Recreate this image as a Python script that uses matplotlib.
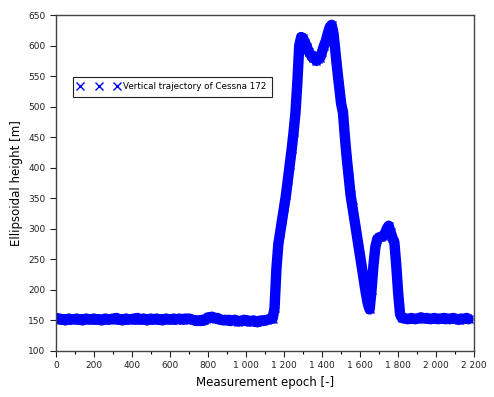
import numpy as np
import matplotlib
matplotlib.use("Agg")
import matplotlib.pyplot as plt
from matplotlib.ticker import MultipleLocator, FuncFormatter

# Ellipsoidal height [m], one reading every 10 epochs
height_ground_start = [
    154, 152, 153, 151, 152, 150, 152, 153, 151, 152,
    152, 153, 151, 152, 150, 152, 153, 152, 151, 152,
    153, 151, 152, 152, 150, 151, 153, 152, 151, 152,
    153, 152, 154, 151, 152, 150, 152, 153, 151, 152,
    152, 153, 151, 154, 152, 151, 153, 152, 150, 152,
    153, 151, 152, 153, 151, 152, 150, 152, 153, 152,
    151, 152, 153, 151, 152, 153, 152, 151, 153, 152,
    153, 152, 151, 150, 149, 150, 149, 151, 150, 152,
    155, 154, 156, 155, 153, 154, 152, 151, 150, 151,
    150, 151, 149, 150, 151, 150, 148, 149, 150, 151,
    149, 150, 148, 149, 150, 148, 147, 149, 150, 149,
    150, 151, 152, 153,
]
height_flight = [
    153, 170, 235, 275, 295, 315, 335, 355, 380, 405,
    430, 458, 490, 540, 600, 614, 612, 605, 598, 590,
    585, 580, 582, 575, 578, 580, 590, 600, 608, 620,
    630, 634, 620, 590, 560, 532, 505, 490, 450, 415,
    385, 355, 335, 315, 295, 275, 255, 235, 215, 195,
    178, 168, 200, 240, 270, 283, 286, 287, 288, 292,
    300, 305, 295, 285, 278, 240, 195, 160,
]
height_ground_end = [
    154, 154, 153, 152, 153, 154, 153, 152, 153, 154,
    155, 154, 153, 154, 153, 152, 153, 154, 153, 152,
    153, 153, 154, 152, 153, 152, 153, 154, 153, 152,
    151, 153, 152, 153, 154, 152,
]
epoch_step = 10
label = "Vertical trajectory of Cessna 172"

height = np.array(height_ground_start + height_flight + height_ground_end)
epoch = np.arange(len(height)) * epoch_step

fig = plt.figure(figsize=(4.94, 3.97), dpi=100)
ax = fig.add_axes([0.113, 0.116, 0.847, 0.846])

# thick band under the markers, the original has a marker at every epoch
ax.plot(epoch, height, color="#0000ff", linewidth=7.5,
        solid_joinstyle="round", solid_capstyle="round")
ax.plot(epoch, height, linestyle="none", marker="x", color="#0000ff",
        markersize=6, markeredgewidth=1.0, label=label)

ax.set_xlim(0, 2200)
ax.set_ylim(100, 650)
ax.xaxis.set_major_locator(MultipleLocator(200))
ax.xaxis.set_minor_locator(MultipleLocator(100))
ax.yaxis.set_major_locator(MultipleLocator(50))
ax.xaxis.set_major_formatter(FuncFormatter(lambda v, p: f"{int(v):,}".replace(",", " ")))

ax.tick_params(which="major", direction="out", length=4, width=0.8,
               labelsize=6.5, colors="#222222", top=False, right=False)
ax.tick_params(which="minor", direction="out", length=2, width=0.8,
               top=False, right=False)
for s in ax.spines.values():
    s.set_color("#444444")
    s.set_linewidth(1.0)

ax.set_xlabel("Measurement epoch [-]", fontsize=8.5)
ax.set_ylabel("Ellipsoidal height [m]", fontsize=8.5)

leg = ax.legend(loc="upper left", bbox_to_anchor=(0.04, 0.815), borderaxespad=0,
                numpoints=3, fontsize=6.3, handlelength=4.8, handletextpad=0.4,
                borderpad=0.6, fancybox=False, framealpha=1)
leg.get_frame().set_edgecolor("#222222")
leg.get_frame().set_linewidth(0.8)

fig.savefig("out.png", dpi=100)
